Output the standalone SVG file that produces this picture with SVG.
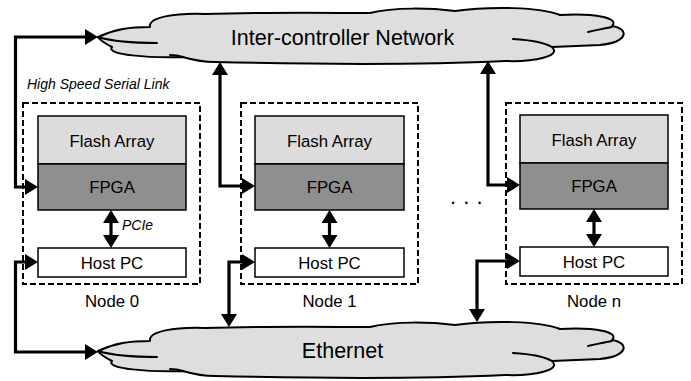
<svg xmlns="http://www.w3.org/2000/svg" width="691" height="381" viewBox="0 0 691 381">
<style>
.cloud{fill:#dedede;stroke:#000;stroke-width:2;stroke-linejoin:round}
.crease{fill:none;stroke:#000;stroke-width:2;stroke-linecap:round}
.dash{fill:none;stroke:#000;stroke-width:2;stroke-dasharray:6,3}
.flash{fill:#dcdcdc;stroke:#000;stroke-width:1.5}
.fpga{fill:#8f8f8f;stroke:#000;stroke-width:1.5}
.host{fill:#fff;stroke:#000;stroke-width:1.5}
.lbl{font-family:"Liberation Sans",Arial,sans-serif;font-size:16.8px;fill:#000;text-anchor:middle}
.big{font-family:"Liberation Sans",Arial,sans-serif;font-size:21.5px;fill:#000;text-anchor:middle}
.it{font-family:"Liberation Sans",Arial,sans-serif;font-size:14px;font-style:italic;fill:#000}
.conn{fill:none;stroke:#000;stroke-width:3.2;stroke-linejoin:miter;marker-start:url(#ah);marker-end:url(#ah)}
</style>
<defs>
<marker id="ah" viewBox="0 0 13 16" markerWidth="13" markerHeight="16" refX="10" refY="8" orient="auto-start-reverse" markerUnits="userSpaceOnUse">
<path d="M0,0 L13,8 L0,16 z" fill="#000"/>
</marker>
<g id="cloudshape">
<path class="cloud" d="M98,37 C115,29 130,27 150,27 C148,17 175,13 205,14 C270,12 330,13 370,13 C395,7 430,8 455,11 C490,6 540,7 560,15 C595,13 620,18 612,26 C630,29 628,42 600,45 L552,47 C562,56 535,62 505,61 C420,65 300,64 215,62 C200,62 190,59 183,57 C150,58 105,55 112,47 C108,45 100,40 98,37 Z"/>
<path class="crease" d="M98,37 C115,42 135,43 157,43"/>
<path class="crease" d="M170,55 C176,55 180,56 183,57"/>
<path class="crease" d="M588,32 C598,30 605,28 612,27"/>
<path class="crease" d="M513,39 C530,40 545,43 552,47"/>
</g>
</defs>

<g id="inter-controller-network">
<use href="#cloudshape"/>
<text class="big" x="342.5" y="45">Inter-controller Network</text>
</g>

<g id="ethernet">
<use href="#cloudshape" transform="translate(0,314)"/>
<text class="big" x="342.5" y="358">Ethernet</text>
</g>

<g id="node0">
<rect class="dash" x="23" y="103" width="177" height="181"/>
<rect class="flash" x="38" y="116" width="148" height="48"/>
<rect class="fpga" x="38" y="164" width="148" height="46"/>
<rect class="host" x="38" y="248" width="148" height="29"/>
<text class="lbl" x="112" y="147">Flash Array</text>
<text class="lbl" x="112" y="193">FPGA</text>
<text class="lbl" x="112" y="269">Host PC</text>
<text class="lbl" x="112" y="307">Node 0</text>
</g>

<g id="node1">
<rect class="dash" x="241" y="103" width="177" height="181"/>
<rect class="flash" x="255" y="116" width="149" height="48"/>
<rect class="fpga" x="255" y="164" width="149" height="46"/>
<rect class="host" x="255" y="248" width="149" height="29"/>
<text class="lbl" x="329.5" y="147">Flash Array</text>
<text class="lbl" x="329.5" y="193">FPGA</text>
<text class="lbl" x="329.5" y="269">Host PC</text>
<text class="lbl" x="329.5" y="307">Node 1</text>
</g>

<g id="noden">
<rect class="dash" x="506" y="103" width="176" height="181"/>
<rect class="flash" x="520" y="115" width="148" height="48"/>
<rect class="fpga" x="520" y="163" width="148" height="46"/>
<rect class="host" x="520" y="247" width="148" height="29"/>
<text class="lbl" x="594" y="146">Flash Array</text>
<text class="lbl" x="594" y="192">FPGA</text>
<text class="lbl" x="594" y="268">Host PC</text>
<text class="lbl" x="594" y="307">Node n</text>
</g>

<g id="labels">
<text class="it" x="27" y="89">High Speed Serial Link</text>
<text class="it" x="122" y="230">PCIe</text>
<text x="450" y="204" font-family="Liberation Sans, Arial, sans-serif" font-size="22" letter-spacing="7.2">...</text>
</g>

<g id="connectors">
<path class="conn" d="M35,187 H15.5 V37 H95"/>
<path class="conn" d="M252,186 H220 V65"/>
<path class="conn" d="M517,185 H488 V64"/>
<path class="conn" d="M111,213 V245"/>
<path class="conn" d="M329.5,213 V245"/>
<path class="conn" d="M594,212 V244"/>
<path class="conn" d="M35,262 H15.5 V352 H95"/>
<path class="conn" d="M252,262 H229 V324"/>
<path class="conn" d="M517,261 H477 V319"/>
</g>
</svg>
